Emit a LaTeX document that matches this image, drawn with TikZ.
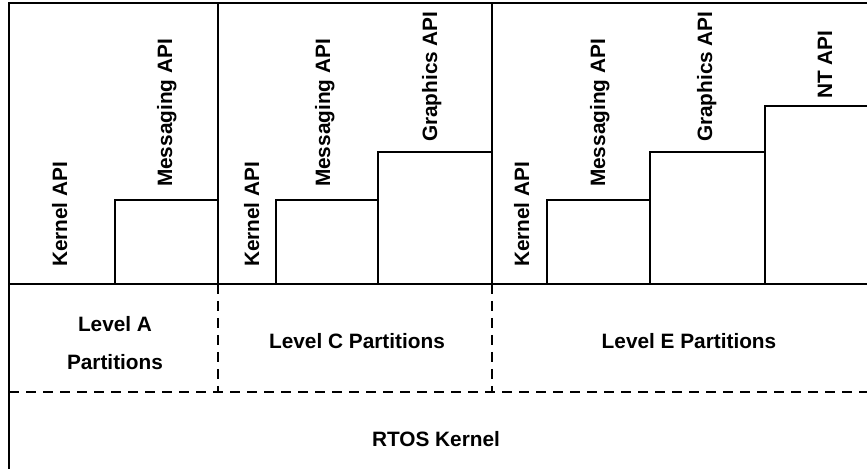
\documentclass[tikz,border=0pt]{standalone}
\usepackage{fontspec}
\setmainfont{Liberation Sans}
\usetikzlibrary{positioning}

\begin{document}
\begin{tikzpicture}[x=0.5pt, y=-0.5pt, line width=1pt,
    every node/.style={font=\fontsize{10.4}{19}\selectfont\bfseries},
    apilabel/.style={rotate=90, anchor=base west, inner sep=0pt},
    partlabel/.style={align=center, anchor=base, inner sep=0pt},
    partline/.style={dash pattern=on 5pt off 3.5pt}]
    \useasboundingbox (0,0) rectangle (867,469);

    % frame of the API layer
    \draw (870,3) -- (9,3) -- (9,469);
    \draw (9,284) -- (870,284);
    \draw (218,3) -- (218,284);
    \draw (492,3) -- (492,284);

    % API steps
    \draw (115,284) |- (218,200);
    \draw (276,284) |- (378,200);
    \draw (378,284) |- (492,152);
    \draw (547,284) |- (650,200);
    \draw (650,284) |- (765,152);
    \draw (765,284) |- (870,106);

    % partition borders
    \draw [partline] (218,284) -- (218,392);
    \draw [partline] (492,284) -- (492,392);
    \draw [partline] (9,392) -- (870,392);

    \node [apilabel] (kernA) at (67,268) {Kernel API};
    \node [apilabel] (msgA) at (172,188) {Messaging API};
    \node [apilabel] (kernC) at (259,268) {Kernel API};
    \node [apilabel] (msgC) at (330,188) {Messaging API};
    \node [apilabel] (gfxC) at (437,143) {Graphics API};
    \node [apilabel] (kernE) at (529,268) {Kernel API};
    \node [apilabel] (msgE) at (605,188) {Messaging API};
    \node [apilabel] (gfxE) at (712,143) {Graphics API};
    \node [apilabel] (ntE) at (832,100) {NT API};

    \node [partlabel] (lvlA) at (115,370) {Level A\\Partitions};
    \node [partlabel] (lvlC) at (357,349) {Level C Partitions};
    \node [partlabel] (lvlE) at (689,349) {Level E Partitions};
    \node [partlabel] (rtos) at (436,447) {RTOS Kernel};
\end{tikzpicture}
\end{document}
